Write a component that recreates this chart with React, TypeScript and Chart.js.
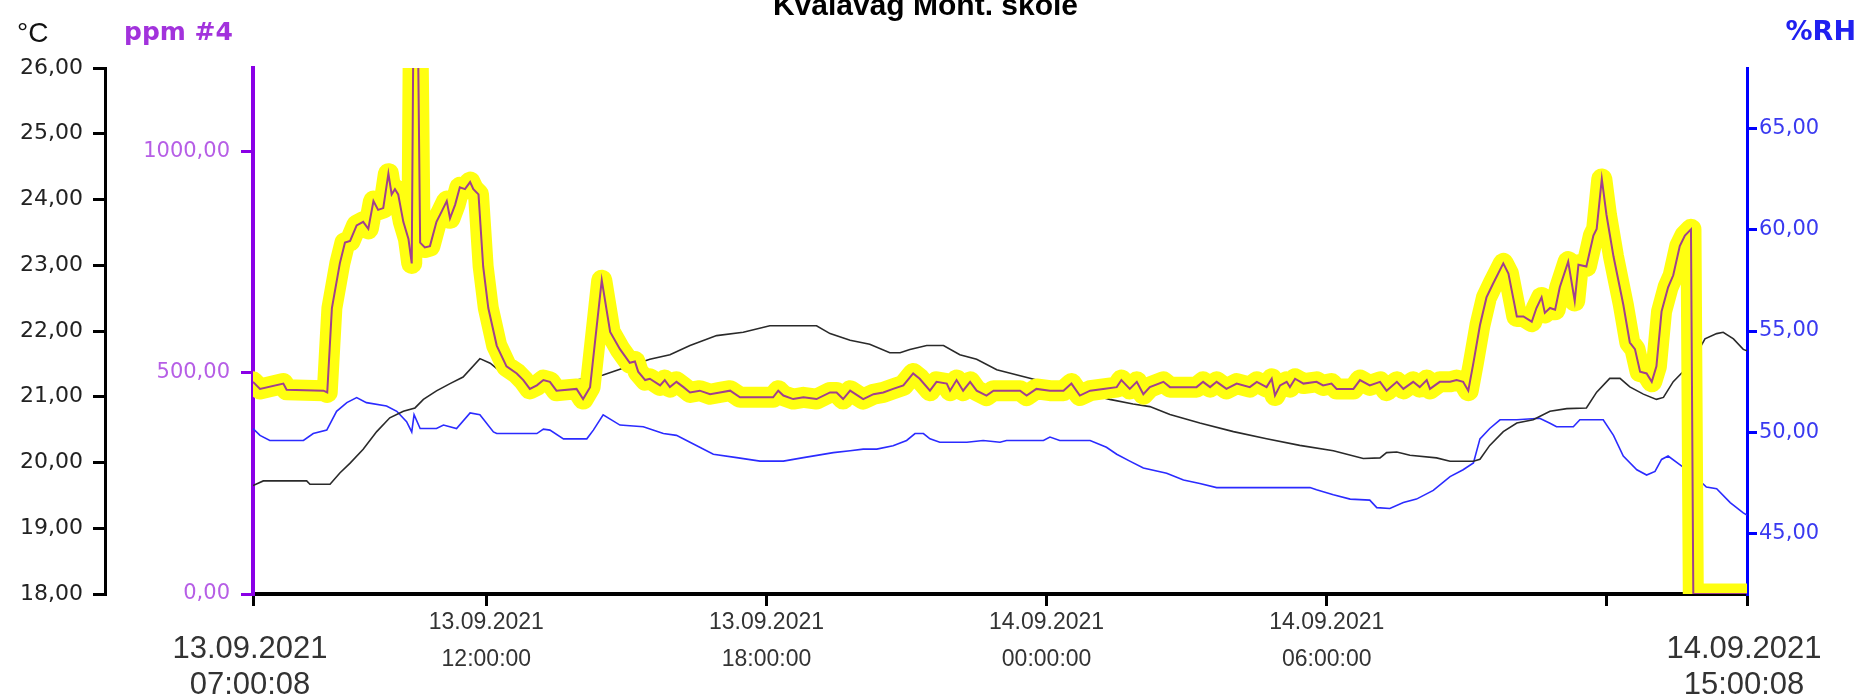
import React, { useEffect, useRef } from "react";
import { Chart, registerables } from "chart.js";

Chart.register(...registerables);

const W = 1859;
const H = 699;

const titleText = "Kvalavåg Mont. skole";
const tempUnitLabel = "°C";
const ppmUnitLabel = "ppm #4";
const rhUnitLabel = "%RH";

// x axis: hours since 13.09.2021 07:00:08
const xMin = 0;
const xMax = 32;
const xTickHours = [0, 4.9978, 10.9978, 16.9978, 22.9978, 28.9978, 32];
const xTickDates = ["13.09.2021", "13.09.2021", "13.09.2021", "14.09.2021", "14.09.2021", "", "14.09.2021"];
const xTickTimes = ["07:00:08", "12:00:00", "18:00:00", "00:00:00", "06:00:00", "", "15:00:08"];

const tempTicks = [18, 19, 20, 21, 22, 23, 24, 25, 26];
const ppmTicks = [0, 500, 1000];
const rhTicks = [45, 50, 55, 60, 65];

const co2Hours = [
  0.0, 0.15, 0.65, 0.72, 1.51, 1.59, 1.69, 1.86, 1.97, 2.08, 2.22, 2.36, 2.47, 2.58, 2.68, 2.79, 2.9, 2.97, 3.04, 3.11,
  3.22, 3.33, 3.4, 3.45, 3.51, 3.58, 3.68, 3.79, 3.93, 4.04, 4.15, 4.22, 4.33, 4.43, 4.54, 4.65, 4.72, 4.83, 4.93, 5.04,
  5.22, 5.43, 5.65, 5.79, 5.93, 6.08, 6.22,
  6.36, 6.5, 6.93, 7.07, 7.22, 7.47, 7.65, 7.86, 8.07, 8.18, 8.25, 8.4, 8.5, 8.72, 8.82, 8.93, 9.07, 9.22, 9.36, 9.57,
  9.79, 10.0, 10.22, 10.43, 11.14, 11.25, 11.36, 11.57, 11.79, 12.07, 12.36, 12.5, 12.64,
  12.79, 13.07, 13.29, 13.5, 13.71, 13.93, 14.14, 14.28, 14.5, 14.64, 14.86, 14.93, 15.07, 15.21, 15.36, 15.5, 15.71,
  15.86, 16.43, 16.57, 16.78, 17.07, 17.36, 17.53, 17.71, 17.93, 18.21, 18.5, 18.6, 18.78, 18.93, 19.07,
  19.21, 19.5, 19.64, 20.21, 20.35, 20.5, 20.64, 20.85, 21.07, 21.35, 21.5, 21.71, 21.82, 21.89, 22.0, 22.14, 22.21,
  22.32, 22.5, 22.78, 22.92, 23.1, 23.21, 23.57, 23.71, 23.92, 24.14, 24.28, 24.5, 24.64, 24.85, 24.99, 25.14, 25.21, 25.42,
  25.64, 25.78, 25.92, 26.03, 26.14, 26.28, 26.42, 26.56, 26.78, 26.89, 27.07, 27.21, 27.39, 27.49, 27.6, 27.67, 27.78,
  27.89, 27.99, 28.17, 28.31, 28.39, 28.56, 28.71, 28.78, 28.89, 28.99, 29.14, 29.35, 29.49, 29.6, 29.71, 29.85, 29.96,
  30.06, 30.17, 30.31, 30.42, 30.56, 30.67, 30.8, 30.85, 32.0,
];
const co2Ppm = [
  480, 464, 476, 462, 460, 456, 647, 748, 795, 799, 834, 842, 826, 889, 869, 873, 951, 904, 916, 904,
  842, 803, 748, 1500, 1500, 795, 784, 787, 842, 865, 889, 850, 881, 920, 916, 932, 916, 904, 741, 647,
  562, 515, 499, 484, 464, 472, 484,
  480, 460, 464, 441, 468, 710, 593, 554, 523, 526, 503, 484, 487, 472, 484, 468, 480, 468, 456, 460,
  452, 456, 460, 445, 445, 460, 449, 441, 445, 441, 456, 456, 441,
  460, 441, 452, 456, 464, 472, 499, 487, 460, 480, 476, 460, 484, 460, 480, 460, 449,
  460, 460, 449, 464, 460, 460, 476, 449, 460, 464, 468, 484, 464, 480, 452,
  468, 480, 468, 468, 480, 468, 480, 464, 476, 468, 480, 468, 487, 449, 472, 480, 468,
  487, 476, 480, 472, 476, 464, 464, 484, 472, 480, 460, 480, 464, 480, 468, 484, 464, 480,
  480, 484, 480, 460, 523, 608, 671, 702, 748, 725, 628, 628, 616, 647, 671, 636, 647,
  643, 694, 752, 663, 745, 741, 811, 826, 939, 858, 764, 655, 569, 554, 503, 499, 480,
  515, 639, 694, 721, 787, 811, 825, 0, 0,
];

const tempHours = [
  0.0, 0.22, 1.15, 1.22, 1.65, 1.86, 2.08, 2.36, 2.65, 2.93, 3.22, 3.47, 3.65, 3.93, 4.22, 4.5, 4.86, 5.08, 5.22, 6.2,
  6.9, 7.5, 7.86, 8.5, 8.93, 9.36, 9.93, 10.5, 11.07, 12.07, 12.36, 12.79, 13.21, 13.64, 13.86, 14.07, 14.43, 14.79,
  15.14, 15.5, 15.93, 16.64, 17.5, 18.35, 18.85, 19.21, 19.64, 20.28, 21.0, 21.71, 22.42, 23.14, 23.78, 24.14, 24.28,
  24.5, 24.78, 25.35, 25.64, 26.14, 26.28, 26.49, 26.78, 27.07, 27.42, 27.78, 28.14, 28.56, 28.78, 29.06, 29.28, 29.49,
  29.78, 30.06, 30.21, 30.42, 30.56, 30.8, 31.1, 31.35, 31.49, 31.71, 31.92, 32.0,
];
const tempC = [
  19.65, 19.72, 19.72, 19.67, 19.67, 19.84, 19.99, 20.2, 20.47, 20.68, 20.78, 20.83, 20.96, 21.09, 21.2, 21.3, 21.58,
  21.51, 21.43, 21.22, 21.25, 21.33, 21.42, 21.57, 21.64, 21.78, 21.93, 21.98, 22.08, 22.08, 21.96, 21.86, 21.8, 21.67,
  21.67, 21.72, 21.78, 21.78, 21.64, 21.57, 21.41, 21.28, 21.12, 20.96, 20.89, 20.85, 20.73, 20.6, 20.47, 20.36, 20.26,
  20.18, 20.06, 20.07, 20.15, 20.16, 20.11, 20.07, 20.02, 20.02, 20.05, 20.26, 20.47, 20.6, 20.65, 20.78, 20.82, 20.83,
  21.07, 21.28, 21.28, 21.15, 21.04, 20.96, 20.99, 21.23, 21.33, 21.5, 21.88, 21.96, 21.98, 21.88, 21.72, 21.7,
];

const rhHours = [
  0.0, 0.15, 0.36, 1.08, 1.29, 1.58, 1.79, 2.01, 2.22, 2.43, 2.86, 3.08, 3.29, 3.4, 3.45, 3.58, 3.93, 4.08, 4.36, 4.65,
  4.86, 5.15, 5.22, 6.08, 6.22, 6.36, 6.65, 7.15, 7.29, 7.5, 7.86, 8.36, 8.79, 9.07, 9.36, 9.86, 10.36, 10.86, 11.36,
  11.79, 12.43, 12.79, 13.07, 13.36, 13.71, 14.0, 14.18, 14.36, 14.5, 14.71, 15.29, 15.64, 16.0, 16.14, 16.93, 17.07,
  17.28, 17.93, 18.28, 18.5, 18.78, 19.07, 19.57, 19.93, 20.28, 20.64, 22.64, 22.78, 23.14, 23.5, 23.92, 24.07, 24.35,
  24.64, 24.92, 25.28, 25.64, 25.92, 26.14, 26.28, 26.49, 26.71, 27.07, 27.56, 27.78, 27.92, 28.28, 28.42, 28.92, 29.14,
  29.35, 29.64, 29.85, 30.03, 30.17, 30.31, 30.56, 30.85, 31.13, 31.35, 31.64, 31.92, 32.0,
];
const rhPct = [
  50.18, 49.84, 49.59, 49.59, 49.93, 50.1, 51.03, 51.46, 51.71, 51.46, 51.29, 51.03, 50.52, 50.01, 50.86, 50.18, 50.18,
  50.35, 50.18, 50.95, 50.86, 50.01, 49.93, 49.93, 50.15, 50.1, 49.67, 49.67, 50.1, 50.86, 50.35, 50.27, 49.93, 49.84,
  49.5, 48.91, 48.74, 48.57, 48.57, 48.74, 48.99, 49.08, 49.16, 49.16, 49.33, 49.59, 49.93, 49.93, 49.67, 49.5, 49.5,
  49.59, 49.5, 49.59, 49.59, 49.76, 49.59, 49.59, 49.25, 48.91, 48.57, 48.23, 47.97, 47.63, 47.46, 47.26, 47.26, 47.15,
  46.91, 46.69, 46.64, 46.27, 46.23, 46.52, 46.69, 47.12, 47.8, 48.14, 48.48, 49.67, 50.18, 50.61, 50.61, 50.69, 50.44,
  50.27, 50.27, 50.61, 50.61, 49.84, 48.82, 48.14, 47.88, 48.06, 48.65, 48.82, 48.4, 47.9, 47.29, 47.2, 46.52, 46.01, 45.9,
];

const FONT = "DejaVu Sans";
const FONT_ARIAL = "Liberation Sans";
const fmt = (v: number) => v.toFixed(2).replace(".", ",");
const pts = (xs: number[], ys: number[]) => xs.map((x, i) => ({ x, y: ys[i] }));

const overlayPlugin = {
  id: "overlay",
  afterDraw(chart: any) {
    const ctx = chart.ctx as CanvasRenderingContext2D;
    const xs = chart.scales.x;
    const area = chart.chartArea;
    ctx.save();
    // title (top is cut off by the canvas edge, as in the reference)
    ctx.fillStyle = "#000";
    ctx.font = `bold 30px "${FONT_ARIAL}"`;
    ctx.textAlign = "center";
    ctx.textBaseline = "alphabetic";
    ctx.fillText(titleText, chart.width / 2 - 4, 15);

    // axis unit labels
    ctx.textBaseline = "middle";
    ctx.textAlign = "left";
    ctx.font = `28px "${FONT_ARIAL}"`;
    ctx.fillStyle = "#111";
    ctx.fillText(tempUnitLabel, 17, 34);
    ctx.font = `bold 25px "${FONT}"`;
    ctx.fillStyle = "#a232dc";
    ctx.fillText(ppmUnitLabel, 124, 33);
    ctx.textAlign = "right";
    ctx.font = `bold 27px "${FONT}"`;
    ctx.fillStyle = "#2020f0";
    ctx.fillText(rhUnitLabel, W - 3, 33);

    // x tick labels
    ctx.textAlign = "center";
    ctx.fillStyle = "#333";
    const last = xTickHours.length - 1;
    xTickHours.forEach((h, i) => {
      if (!xTickDates[i]) return;
      const px = xs.getPixelForValue(h);
      const big = i === 0 || i === last;
      if (big) {
        ctx.font = `31px "${FONT_ARIAL}"`;
        ctx.fillText(xTickDates[i], px - 3, area.bottom + 55);
        ctx.fillText(xTickTimes[i], px - 3, area.bottom + 91);
      } else {
        ctx.font = `23px "${FONT_ARIAL}"`;
        ctx.fillText(xTickDates[i], px, area.bottom + 29);
        ctx.fillText(xTickTimes[i], px, area.bottom + 66);
      }
    });
    ctx.restore();
  },
};

export default function App() {
  const ref = useRef<HTMLCanvasElement>(null);
  useEffect(() => {
    const canvas = ref.current!;
    const chart = new Chart(canvas, {
      type: "line",
      data: {
        datasets: [
          {
            label: "CO2",
            data: pts(co2Hours, co2Ppm),
            yAxisID: "yPpm",
            borderColor: "#a0408e",
            borderWidth: 2,
            pointRadius: 0,
            tension: 0,
            order: 0,
            clip: 0,
          },
          {
            label: "CO2 highlight",
            data: pts(co2Hours, co2Ppm),
            yAxisID: "yPpm",
            borderColor: "#ffff10",
            borderWidth: 21,
            borderJoinStyle: "round",
            borderCapStyle: "round",
            pointRadius: 0,
            tension: 0,
            order: 1,
            clip: 0,
          },
          {
            label: "Temperatur",
            data: pts(tempHours, tempC),
            yAxisID: "yTemp",
            borderColor: "#2a2a2a",
            borderWidth: 1.6,
            pointRadius: 0,
            tension: 0,
            order: 2,
          },
          {
            label: "RH",
            data: pts(rhHours, rhPct),
            yAxisID: "yRh",
            borderColor: "#2b2bff",
            borderWidth: 1.6,
            pointRadius: 0,
            tension: 0,
            order: 3,
          },
        ],
      },
      options: {
        responsive: false,
        animation: false,
        devicePixelRatio: 1,
        layout: { padding: { top: 68, left: 0, right: 0, bottom: 0 } },
        plugins: { legend: { display: false }, tooltip: { enabled: false }, title: { display: false } },
        scales: {
          x: {
            type: "linear",
            position: "bottom",
            min: xMin,
            max: xMax,
            afterBuildTicks: (s: any) => {
              s.ticks = xTickHours.map((v) => ({ value: v }));
            },
            afterFit: (s: any) => {
              s.height = 105;
            },
            ticks: { display: false },
            grid: { drawOnChartArea: false, drawTicks: true, tickLength: 12, color: "#000", lineWidth: 3 },
            border: { display: true, color: "#000", width: 4 },
          },
          yTemp: {
            type: "linear",
            position: "left",
            weight: 2,
            min: 18,
            max: 26,
            afterBuildTicks: (s: any) => {
              s.ticks = tempTicks.map((v) => ({ value: v }));
            },
            afterFit: (s: any) => {
              s.width = 105;
            },
            ticks: {
              color: "#222",
              font: { family: FONT, size: 22 },
              padding: 10,
              callback: (v: any) => fmt(Number(v)),
            },
            grid: { drawOnChartArea: false, tickLength: 12, color: "#000", lineWidth: 3 },
            border: { display: true, color: "#000", width: 3 },
          },
          yPpm: {
            type: "linear",
            position: "left",
            weight: 1,
            min: 0,
            max: 1190,
            afterBuildTicks: (s: any) => {
              s.ticks = ppmTicks.map((v) => ({ value: v }));
            },
            afterFit: (s: any) => {
              s.width = 148;
            },
            ticks: {
              color: "#b65ee6",
              font: { family: FONT, size: 21 },
              padding: 11,
              callback: (v: any) => fmt(Number(v)),
            },
            grid: { drawOnChartArea: false, tickLength: 12, color: "#8a00e6", lineWidth: 3 },
            border: { display: true, color: "#8a00e6", width: 4 },
          },
          yRh: {
            type: "linear",
            position: "right",
            min: 42,
            max: 68,
            afterBuildTicks: (s: any) => {
              s.ticks = rhTicks.map((v) => ({ value: v }));
            },
            afterFit: (s: any) => {
              s.width = 112;
            },
            ticks: {
              color: "#3a3af0",
              font: { family: FONT, size: 21 },
              padding: 2,
              callback: (v: any) => fmt(Number(v)),
            },
            grid: { drawOnChartArea: false, tickLength: 10, color: "#0000ff", lineWidth: 3 },
            border: { display: true, color: "#0000ff", width: 3 },
          },
        },
      },
      plugins: [overlayPlugin],
    } as any);
    return () => chart.destroy();
  }, []);

  return (
    <div style={{ position: "fixed", left: 0, top: 0, width: W, height: H, background: "#fff", overflow: "hidden" }}>
      <canvas ref={ref} width={W} height={H} style={{ display: "block", width: W, height: H }} />
    </div>
  );
}
